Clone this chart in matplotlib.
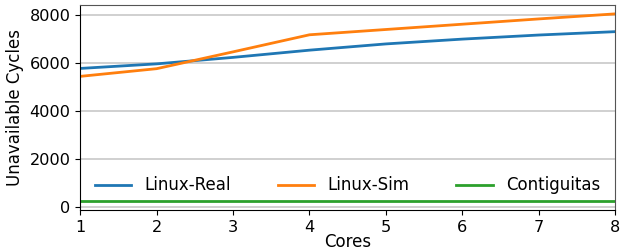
import matplotlib
matplotlib.use("Agg")
import matplotlib.pyplot as plt

cores = [1, 2, 3, 4, 5, 6, 7, 8]
linux_real = [5760, 5950, 6220, 6520, 6780, 6980, 7150, 7290]
linux_sim = [5430, 5750, 6450, 7160, 7380, 7600, 7820, 8030]
contiguitas = [250, 250, 250, 250, 250, 250, 250, 250]

plt.rcParams['font.size'] = 12

fig, ax = plt.subplots(figsize=(6.22, 2.5), dpi=100)
ax.plot(cores, linux_real, color="#1f77b4", lw=2, label="Linux-Real")
ax.plot(cores, linux_sim, color="#ff7f0e", lw=2, label="Linux-Sim")
ax.plot(cores, contiguitas, color="#2ca02c", lw=2, label="Contiguitas")

ax.set_xlim(1, 8)
ax.set_ylim(-130, 8420)
ax.set_yticks([0, 2000, 4000, 6000, 8000])
ax.tick_params(labelsize=11.6)
ax.yaxis.grid(True, color="#c8c8c8", lw=1.2)
ax.set_axisbelow(True)
ax.set_xlabel("Cores", labelpad=-1, fontsize=12)
ax.set_ylabel("Unavailable Cycles", fontsize=12)
for s in ["top", "right"]:
    ax.spines[s].set_color("#555555")
ax.legend(loc="center", bbox_to_anchor=(0.5, 0.12), ncol=3, frameon=False,
          columnspacing=2.8, handlelength=2.2, fontsize=12)

fig.subplots_adjust(left=0.129, right=0.989, top=0.982, bottom=0.16)
fig.savefig("out.png")
